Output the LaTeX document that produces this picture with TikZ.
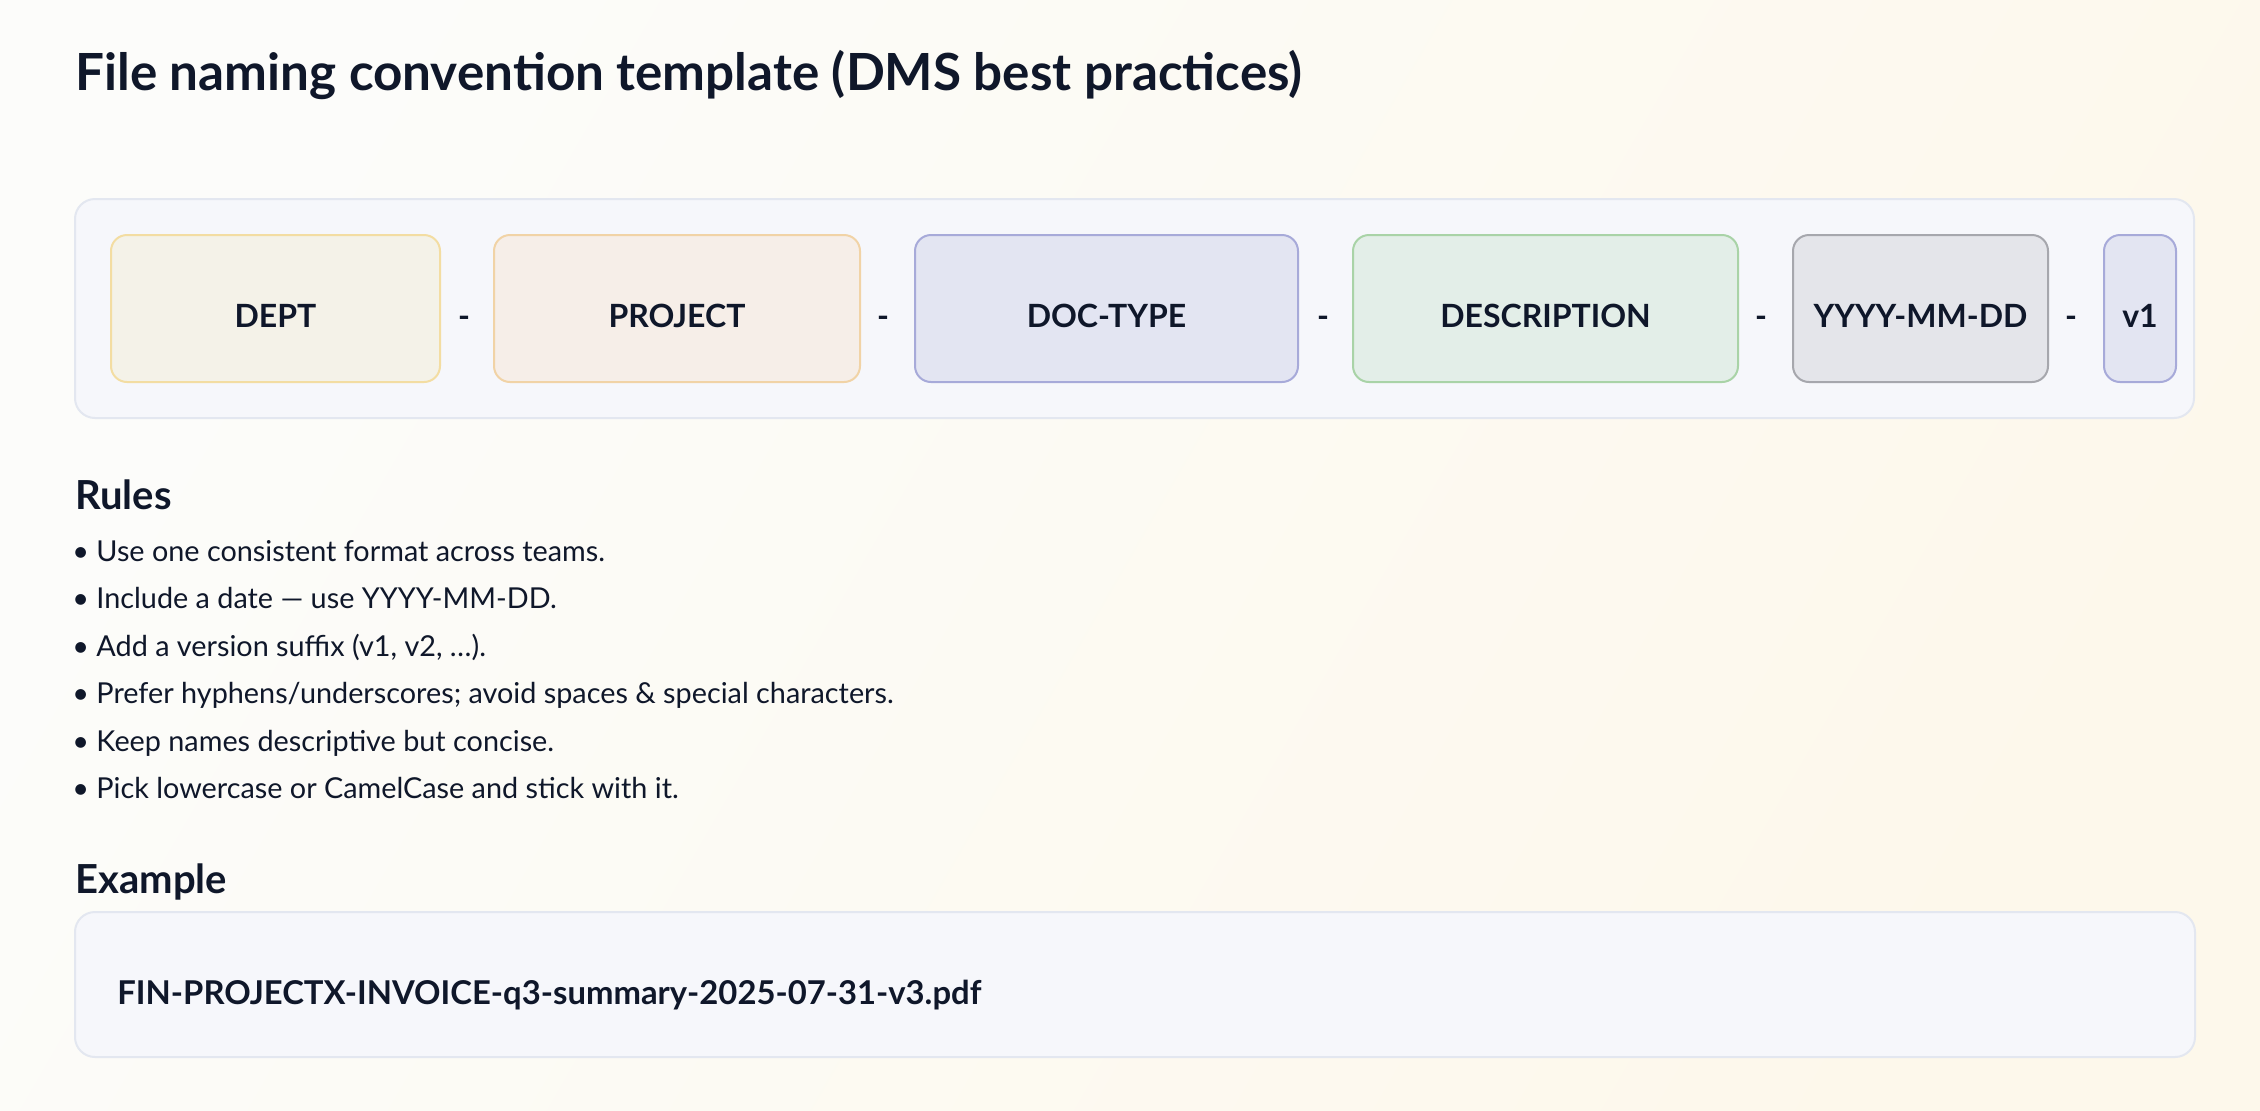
\documentclass[tikz,border=0pt]{standalone}
\usepackage{fontspec}
\setmainfont{Lato}
\usetikzlibrary{positioning}
\definecolor{ink}{HTML}{0F172A}
\definecolor{bgA}{HTML}{FCFCFA}
\definecolor{bgB}{HTML}{FDF8EB}
\definecolor{panelfill}{HTML}{F6F7FB}
\definecolor{panelline}{HTML}{E3E7F0}
\definecolor{deptfill}{HTML}{F4F2E8}
\definecolor{deptline}{HTML}{F3DDA2}
\definecolor{projfill}{HTML}{F6EEE8}
\definecolor{projline}{HTML}{F1D3A6}
\definecolor{docfill}{HTML}{E3E5F2}
\definecolor{docline}{HTML}{A7AAD9}
\definecolor{descfill}{HTML}{E3EEE8}
\definecolor{descline}{HTML}{A9D3A7}
\definecolor{datefill}{HTML}{E4E5EA}
\definecolor{dateline}{HTML}{A6A7AD}
\tikzset{
  seg/.style={draw, rounded corners=8pt, line width=1pt, inner sep=0pt,
    minimum height=73.5pt, text height=18.5pt, text depth=0pt,
    font=\fontsize{16}{19}\selectfont\bfseries, text=ink},
  sep/.style={anchor=base, font=\fontsize{16}{19}\selectfont\bfseries, text=ink},
  panel/.style={draw=panelline, fill=panelfill, line width=1pt, rounded corners=10pt},
  heading/.style={anchor=base west, inner sep=0pt, font=\fontsize{20}{24}\selectfont\bfseries, text=ink},
  rule/.style={anchor=base west, inner sep=0pt, font=\fontsize{14.4}{17}\selectfont, text=ink}
}
\begin{document}
\begin{tikzpicture}[x=0.5pt, y=-0.5pt]
  % background
  \shade[top color=bgA, bottom color=bgB, shading angle=60] (0,0) rectangle (2260,1110);
  \useasboundingbox (0,0) rectangle (2260,1110);

  \node[anchor=base west, inner sep=0pt, font=\fontsize{25.6}{31}\selectfont\bfseries, text=ink] (title) at (75,90)
    {File naming convention template (DMS best practices)};

  % template strip
  \draw[panel] (75,199) rectangle (2194,418);
  \foreach \n/\t/\l/\r/\f/\d in {dept/DEPT/111/440/deptfill/deptline,
      proj/PROJECT/494/860/projfill/projline,
      doc/DOC-TYPE/915/1298/docfill/docline,
      desc/DESCRIPTION/1353/1738/descfill/descline,
      date/YYYY-MM-DD/1793/2048/datefill/dateline,
      ver/v1/2104/2176/docfill/docline}
  {
      \node[seg, fill=\f, draw=\d, minimum width={(\r-\l)*0.5pt}] (\n) at ({(\l+\r)/2},308.5) {\t};
  }
  \foreach \x [count=\i] in {464,883,1323,1761,2071}
  {
      \node[sep] (dash\i) at (\x,327) {-};
  }

  % rules
  \node[heading] (rules) at (75,509) {Rules};
  \foreach \y/\t [count=\i] in {561/{Use one consistent format across teams.},
      608/{Include a date — use YYYY-MM-DD.},
      656/{Add a version suffix (v1, v2, …).},
      703/{Prefer hyphens/underscores; avoid spaces \& special characters.},
      751/{Keep names descriptive but concise.},
      798/{Pick lowercase or CamelCase and stick with it.}}
  {
      \node[rule] (rule\i) at (72,\y) {• \t};
  }

  % example
  \node[heading] (example) at (75,893) {Example};
  \draw[panel] (75,912) rectangle (2195,1057);
  \node[rule, font=\fontsize{16.4}{19}\selectfont\bfseries] (file) at (117,1004)
    {FIN-PROJECTX-INVOICE-q3-summary-2025-07-31-v3.pdf};
\end{tikzpicture}
\end{document}
